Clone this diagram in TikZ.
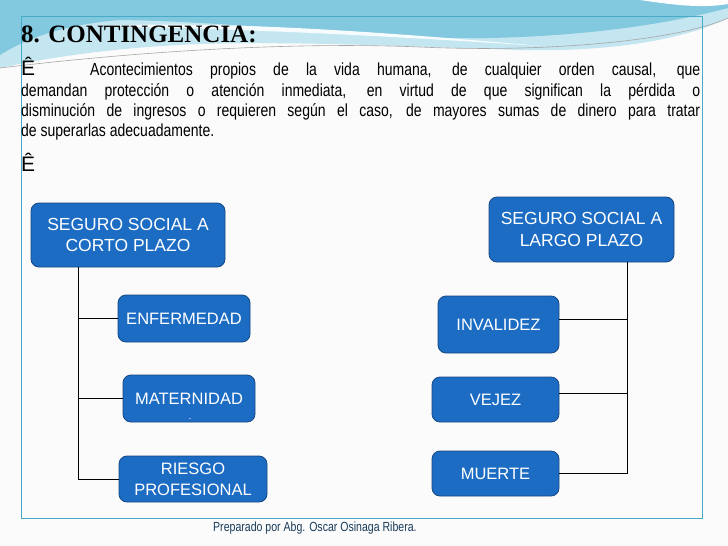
\documentclass[tikz,border=0pt]{standalone}
\usepackage{fontspec}
\setmainfont{Liberation Sans}
\newfontfamily\cond{Liberation Sans}[FakeStretch=0.8]
\newfontfamily\titlefont{Liberation Serif}
\definecolor{boxblue}{RGB}{28,108,196}
\definecolor{boxedge}{RGB}{22,72,130}
\definecolor{framec}{RGB}{70,170,200}
\definecolor{swlight}{RGB}{196,230,240}
\definecolor{swmid}{RGB}{130,200,222}
\definecolor{footc}{RGB}{25,60,90}
\tikzset{
  bluebox/.style={draw=boxedge, line width=0.8pt, fill=boxblue, rounded corners=8pt,
    text=white, align=center, inner sep=2pt,
    font=\fontsize{16.5}{21}\selectfont},
  headbox/.style={bluebox, font=\fontsize{17.5}{21.5}\selectfont},
  link/.style={draw=black, line width=0.9pt},
  bodyline/.style={anchor=base west, inner sep=0pt, font=\cond\fontsize{17.5}{20}\selectfont}
}
\begin{document}
\begin{tikzpicture}[x=1pt,y=-1pt]
\useasboundingbox (0,0) rectangle (728,546);
\fill[white!97!gray] (0,0) rectangle (728,546);
% top swoosh
\fill[swlight] (0,0) -- (728,0) -- (728,18) .. controls (680,42) and (600,52) .. (520,50)
  .. controls (420,47) and (300,41) .. (200,44) .. controls (120,47) and (50,57) .. (0,68) -- cycle;
\fill[swmid] (0,0) -- (728,0) -- (728,8) .. controls (660,26) and (580,36) .. (490,38)
  .. controls (380,40) and (250,22) .. (120,20) .. controls (70,24) and (30,36) .. (0,55) -- cycle;
\fill[white] (640,0) .. controls (680,6) and (705,8) .. (728,4) -- (728,0) -- cycle;
\fill[white!85!swlight] (90,26) .. controls (200,22) and (320,26) .. (540,46)
  .. controls (330,32) and (200,28) .. (90,26) -- cycle;
\draw[gray!70, line width=0.6pt] (0,68) .. controls (150,50) and (300,42) .. (420,47)
  .. controls (550,53) and (680,40) .. (728,18);
% frame
\draw[framec, line width=0.8pt] (21,16) rectangle (702,518);
% title and text
\node[anchor=base west, inner sep=0pt, font=\titlefont\bfseries\fontsize{25}{28}\selectfont] (title) at (21,42) {8. CONTINGENCIA:};
\node[bodyline] (t1) at (21,75) {\makebox[679pt][s]{{\rmfamily\fontsize{21}{22}\selectfont Ê}\hspace{55pt}Acontecimientos propios de la vida humana, de cualquier orden causal, que}};
\node[bodyline] (t2) at (21,96) {\makebox[679pt][s]{demandan protección o atención inmediata, en virtud de que significan la pérdida o}};
\node[bodyline] (t3) at (21,116) {\makebox[679pt][s]{disminución de ingresos o requieren según el caso, de mayores sumas de dinero para tratar}};
\node[bodyline] (t4) at (21,136) {de superarlas adecuadamente.};
\node[anchor=base west, inner sep=0pt, font=\fontsize{21}{22}\selectfont] (t5) at (21,171) {Ê};
% boxes left
\node[headbox, minimum width=194pt, minimum height=64pt] (corto) at (128,235) {SEGURO SOCIAL A\\CORTO PLAZO};
\node[bluebox, minimum width=132pt, minimum height=47pt] (enf) at (184,318.5) {ENFERMEDAD};
\node[bluebox, minimum width=132pt, minimum height=47pt] (mat) at (189,398.5) {MATERNIDAD};
\node[inner sep=0pt, text=white, font=\fontsize{10}{10}\selectfont] (matdot) at (190,419) {.};
\node[bluebox, minimum width=148pt, minimum height=46pt] (ries) at (193,479) {RIESGO\\PROFESIONAL};
% boxes right
\node[headbox, minimum width=185pt, minimum height=65pt] (largo) at (581.5,229.5) {SEGURO SOCIAL A\\LARGO PLAZO};
\node[bluebox, minimum width=121pt, minimum height=57pt] (inv) at (498.5,324.5) {INVALIDEZ};
\node[bluebox, minimum width=127pt, minimum height=45pt] (vej) at (495.5,399.5) {VEJEZ};
\node[bluebox, minimum width=127pt, minimum height=45pt] (mue) at (495.5,473.5) {MUERTE};
% connectors
\coordinate (lv) at (78,0);
\coordinate (rv) at (627,0);
\draw[link] (corto.south -| lv) |- (ries.west);
\draw[link] (lv |- enf.west) -- (enf.west);
\draw[link] (lv |- mat.west) -- (mat.west);
\draw[link] (largo.south -| rv) |- (mue.east);
\draw[link] ([yshift=5.5pt]inv.east) -- ([yshift=5.5pt]inv.east -| rv);
\draw[link] ([yshift=6.5pt]vej.east) -- ([yshift=6.5pt]vej.east -| rv);
% footer
\node[anchor=base west, inner sep=0pt, text=footc, font=\cond\fontsize{13.2}{14}\selectfont] (foot) at (213,531) {Preparado por Abg. Oscar Osinaga Ribera.};
\end{tikzpicture}
\end{document}
